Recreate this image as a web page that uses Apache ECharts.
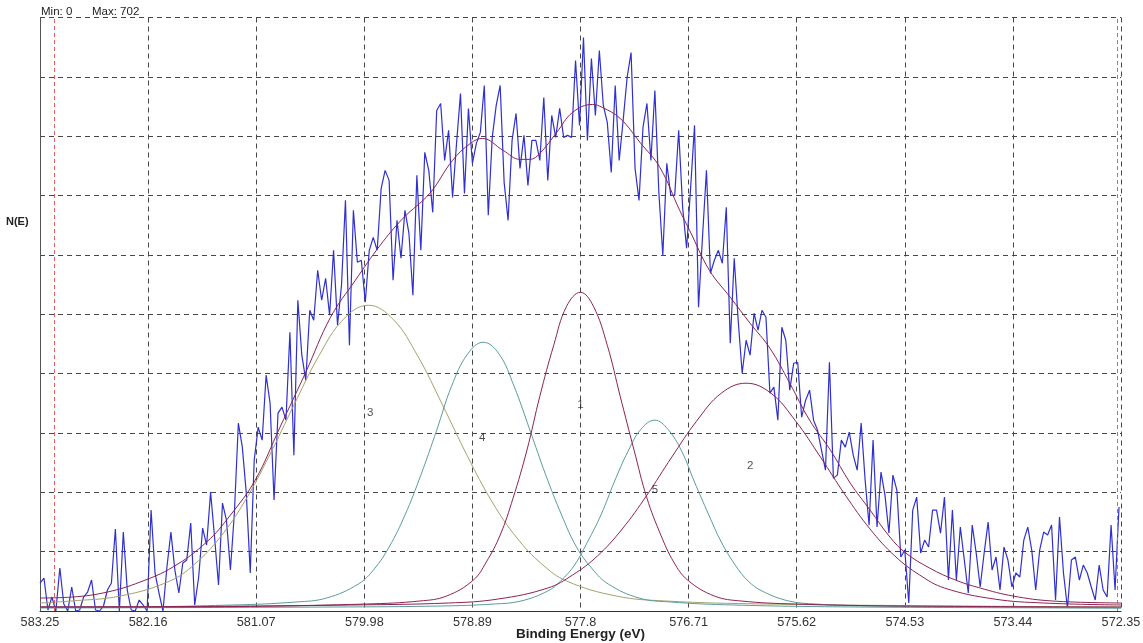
<!DOCTYPE html>
<html>
<head>
<meta charset="utf-8">
<script src="https://cdn.jsdelivr.net/npm/echarts@6/dist/echarts.min.js"></script>
<style>
html,body{margin:0;padding:0;background:#ffffff;}
#chart{width:1143px;height:643px;}
</style>
</head>
<body>
<div id="chart"></div>
<script>
// ---- tick labels (binding energy, eV) ----
const energyTicks = ['583.25','582.16','581.07','579.98','578.89','577.8','576.71','575.62','574.53','573.44','572.35'];

// ---- measured spectrum: evenly spaced scan ----
const scanStart = 583.25;
const scanStep = 0.04;
const counts = [
28,33,1,14,0,43,7,0,24,0,
1,14,19,31,1,0,5,21,28,82,
0,79,21,1,0,11,6,0,101,38,
18,0,44,79,41,18,48,51,88,6,
34,83,66,119,74,26,108,91,41,98,
188,164,118,38,151,184,171,236,208,111,
198,204,191,279,156,311,256,231,301,291,
341,311,333,296,361,286,326,411,266,401,
349,351,309,361,374,361,423,441,431,331,
391,353,401,378,316,436,361,459,441,399,
501,508,451,481,414,468,518,418,503,448,
468,479,526,396,474,506,526,429,391,471,
498,443,476,426,471,471,451,514,431,496,
474,503,474,476,474,551,486,574,471,553,
496,561,506,489,439,526,451,491,534,559,
443,411,484,508,451,521,419,356,448,416,
416,481,404,363,423,486,304,374,441,338,
351,361,348,404,268,353,291,238,271,256,
298,281,301,294,218,224,191,284,271,221,
248,249,194,211,221,191,181,161,141,249,
133,136,171,164,179,156,141,188,131,86,
171,84,139,116,78,136,121,54,61,8,
101,114,58,71,64,101,101,78,114,31,
101,31,84,51,18,86,58,24,58,89,
41,54,21,64,51,24,38,34,71,84,
61,21,61,79,76,86,11,94,38,3,
51,54,31,46,38,24,11,46,21,14,
86,21,104];

// ---- fit envelope ----
const envE = [583.25,582.92,582.57,582.24,581.91,581.57,581.33,581.08,580.83,580.57,580.32,580.07,579.82,579.59,579.32,579.09,578.91,578.79,578.58,578.41,578.31,578.21,578.04,577.88,577.68,577.58,577.40,577.20,577.00,576.80,576.70,576.50,576.29,576.09,575.89,575.69,575.49,575.28,575.08,574.88,574.68,574.52,574.28,574.02,573.77,573.44,573.04,572.35];
const envV = [13,14,19,29,44,69,96,131,184,239,294,331,366,393,418,451,468,473,461,452,452,458,479,499,507,504,493,469,444,401,381,341,314,288,263,228,191,161,128,101,74,58,43,31,23,15,10,8];

// ---- component 1 ----
const c1E = [583.25,581.04,579.96,579.42,579.15,578.88,578.75,578.61,578.48,578.34,578.21,578.07,577.94,577.80,577.67,577.53,577.40,577.26,577.13,576.99,576.86,576.72,576.45,576.18,575.64,574.56,572.35];
const c1V = [4,5,7,10,15,31,49,76,113,161,215,266,305,319,305,266,215,161,113,76,49,31,15,10,7,5,4];
// ---- component 2 ----
const c2E = [583.25,582.13,580.13,579.13,578.63,578.13,577.88,577.63,577.38,577.13,576.88,576.63,576.38,576.13,575.88,575.63,575.38,575.13,574.88,574.63,574.38,574.13,573.63,573.13,572.35];
const c2V = [4,4,6,8,12,23,36,55,82,116,154,190,218,228,218,190,154,116,82,55,36,23,12,8,6];
// ---- component 3 ----
const c3E = [583.25,582.94,582.44,581.94,581.69,581.44,581.19,580.94,580.69,580.44,580.19,579.94,579.69,579.44,579.19,578.94,578.69,578.44,578.19,577.94,577.44,576.94,575.94,573.94,572.35];
const c3V = [8,10,15,30,47,73,109,155,206,255,292,306,292,255,206,155,109,73,47,30,15,10,7,5,4];
// ---- component 4 ----
const c4E = [583.25,582.56,581.30,580.67,580.36,580.04,579.88,579.73,579.57,579.41,579.25,579.10,578.94,578.78,578.62,578.47,578.31,578.15,577.99,577.84,577.68,577.52,577.21,576.89,576.26,575.00,572.35];
const c4V = [4,4,6,9,13,27,42,64,96,136,181,225,257,269,257,225,181,136,96,64,42,27,13,9,6,4,3];
// ---- component 5 ----
const c5E = [583.25,580.29,579.21,578.67,578.40,578.13,578.00,577.86,577.73,577.59,577.46,577.32,577.19,577.05,576.92,576.78,576.65,576.51,576.38,576.24,576.11,575.97,575.70,575.43,574.89,573.81,572.35];
const c5V = [3,4,5,7,10,20,30,46,69,97,129,160,182,191,182,160,129,97,69,46,30,20,10,7,5,4,3];

// background region limits (red dashed markers)
const bgLimits = [583.11, 572.39];
const peakNames = ['1','2','3','4','5'];

function pairs(xs, ys) { return xs.map((x, i) => [x, ys[i]]); }
const noiseData = counts.map((v, i) => [+(scanStart - i * scanStep).toFixed(2), v]);

const FONT = '"Liberation Sans", Arial, sans-serif';
const gridDash = { color: '#474747', type: [5, 4], width: 1 };
const MAROON = '#8d2352';
const OLIVE = '#a4a36c';
const TEAL = '#5a9c9c';
const BLUE = '#3030d2';

function fit(data, color) {
  return {
    type: 'line', xAxisIndex: 1, data: data, smooth: 0.4, symbol: 'none',
    lineStyle: { color: color, width: 1 }, z: 3, silent: true
  };
}

// annotation anchors for the component numbers [energy, height]
const peakLabelAnchors = [[577.80, 206], [576.09, 145], [579.92, 198], [578.79, 173], [577.05, 121]];

const chart = echarts.init(document.getElementById('chart'), null, { renderer: 'canvas' });
chart.setOption({
  animation: false,
  backgroundColor: '#ffffff',
  textStyle: { fontFamily: FONT },
  grid: { left: 40, right: 22, top: 17.5, bottom: 32, containLabel: false, outerBoundsMode: 'none' },
  xAxis: [
    {
      type: 'category', data: energyTicks, boundaryGap: false, position: 'bottom',
      axisLine: { show: true, lineStyle: { color: '#333333', width: 1 } },
      axisTick: { show: false },
      axisLabel: { interval: 0, color: '#333333', fontSize: 12.7, fontFamily: FONT, margin: 5 },
      splitLine: { show: true, interval: 0, lineStyle: gridDash }
    },
    { type: 'value', min: 572.35, max: 583.25, inverse: true, show: false }
  ],
  yAxis: {
    type: 'value', min: 0, max: 594, interval: 59.4,
    axisLine: { show: true, lineStyle: { color: '#555555', width: 1 } },
    axisTick: { show: false }, axisLabel: { show: false },
    splitLine: { show: true, lineStyle: gridDash }
  },
  graphic: [
    { type: 'text', left: 6, top: 216, style: { text: 'N(E)', font: 'bold 11px ' + FONT, fill: '#222222' } },
    { type: 'text', left: 41, top: 6, style: { text: 'Min: 0', font: '11.5px ' + FONT, fill: '#222222' } },
    { type: 'text', left: 92, top: 6, style: { text: 'Max: 702', font: '11.5px ' + FONT, fill: '#222222' } },
    { type: 'text', x: 580.5, y: 634, style: { text: 'Binding Energy (eV)', font: 'bold 13.5px ' + FONT, fill: '#222222', align: 'center', verticalAlign: 'middle' } }
  ],
  series: [
    {
      type: 'line', xAxisIndex: 1, data: noiseData, symbol: 'none', z: 2, silent: true,
      lineStyle: { color: BLUE, width: 1.2 },
      markLine: {
        silent: true, symbol: 'none', label: { show: false },
        lineStyle: { color: '#e35f5f', type: [4, 3], width: 1 },
        data: bgLimits.map(e => ({ xAxis: e }))
      }
    },
    fit(pairs(c3E, c3V), OLIVE),
    fit(pairs(c4E, c4V), TEAL),
    fit(pairs(c5E, c5V), TEAL),
    fit(pairs(c1E, c1V), MAROON),
    fit(pairs(c2E, c2V), MAROON),
    fit(pairs(envE, envV), MAROON),
    {
      type: 'scatter', xAxisIndex: 1, symbolSize: 0, silent: true, z: 5,
      data: peakLabelAnchors.map((p, i) => [p[0], p[1], peakNames[i]]),
      label: { show: true, position: 'inside', formatter: p => p.data[2], color: '#222222', fontSize: 11.5, fontFamily: FONT }
    }
  ]
});
</script>
</body>
</html>
